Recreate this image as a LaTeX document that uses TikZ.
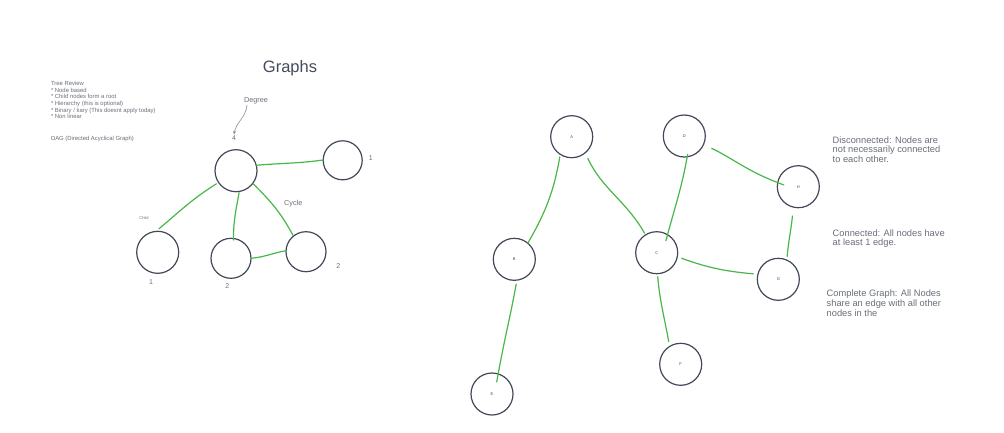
\documentclass[tikz,border=0pt]{standalone}
\usepackage{fontspec}
\setmainfont{Liberation Sans}
\usetikzlibrary{arrows.meta}
\definecolor{circ}{HTML}{434858}
\definecolor{grn}{HTML}{48B848}
\definecolor{txt}{HTML}{6B6F7B}
\definecolor{ttl}{HTML}{454A5C}
\begin{document}
\begin{tikzpicture}[x=1pt,y=-1pt,
  vtx/.style={circle, draw=circ, line width=1.2pt, minimum size=42pt, inner sep=0pt, outer sep=0pt, font=\fontsize{4}{4}\selectfont, text=circ},
  edge/.style={draw=grn, line width=1.2pt, line cap=round},
  lbl/.style={text=txt, inner sep=0pt, outer sep=0pt},
  para/.style={lbl, anchor=north west, align=left},
  arr/.style={draw=txt!80, line width=0.6pt, -{Stealth[length=3.5pt,width=3pt]}}
]
\useasboundingbox[fill=white] (0,0) rectangle (1004,432);

% title and notes
\node[text=ttl, inner sep=0pt, font=\fontsize{16.5}{18}\selectfont] (title) at (290,68) {Graphs};
\node[para, font=\fontsize{5.9}{6.7}\selectfont] (tree) at (51,81.1) {Tree Review\\* Node based\\* Child nodes form a root\\* Hierarchy (this is optional)\\* Binary / kary (This doesnt apply today)\\* Non linear};
\node[para, font=\fontsize{5.9}{6.7}\selectfont] (dag) at (51,136.1) {DAG (Directed Acyclical Graph)};

% left graph
\node[vtx] (R) at (236,170.7) {};
\node[vtx, minimum size=39pt] (N1) at (342.7,160.3) {};
\node[vtx] (BL) at (157.7,252.3) {};
\node[vtx, minimum size=40pt] (BM) at (231,258.3) {};
\node[vtx, minimum size=40pt] (BR) at (306,251.7) {};

\node[lbl, font=\fontsize{7.3}{8}\selectfont] (deg) at (256,100.7) {Degree};
\node[lbl, font=\fontsize{7}{8}\selectfont] (four) at (234,138.3) {4};
\node[lbl, font=\fontsize{7}{8}\selectfont] (d1) at (370.7,158.3) {1};
\node[lbl, font=\fontsize{7.3}{8}\selectfont] (cyc) at (293.3,203.3) {Cycle};
\node[lbl, font=\fontsize{4}{5}\selectfont] (child) at (144,217.7) {Child};
\node[lbl, font=\fontsize{7}{8}\selectfont] (d2) at (151,281.7) {1};
\node[lbl, font=\fontsize{7}{8}\selectfont] (d3) at (227.3,286) {2};
\node[lbl, font=\fontsize{7}{8}\selectfont] (d4) at (338.3,266) {2};

\draw[arr] ([xshift=3pt,yshift=-1pt]deg.south west) to[out=-95,in=80] ([yshift=1.5pt]four.north);

\draw[edge] (R.15) to[out=5,in=188] (N1.179);
\draw[edge, shorten <=2.6pt, shorten >=4pt] (R.-146) to[out=-148,in=40] (BL.95);
\draw[edge, shorten <=1.2pt, shorten >=-1.6pt] (R.-81) to[out=-100,in=90] (BM.83);
\draw[edge, shorten <=1.1pt, shorten >=0.9pt] (R.-37.6) to[out=-45,in=118] (BR.129);
\draw[edge] (BM.0) to[out=5,in=190] (BR.177);

% right graph
\node[vtx] (A) at (571.7,136.7) {A};
\node[vtx] (D) at (684.3,136) {D};
\node[vtx] (H) at (798.3,186.7) {H};
\node[vtx] (B) at (514.3,259.3) {B};
\node[vtx] (C) at (656.7,252.7) {C};
\node[vtx] (G) at (778.3,279.3) {G};
\node[vtx] (F) at (680.7,364.3) {F};
\node[vtx] (E) at (492,394) {E};

\draw[edge, shorten <=2.7pt] (A.237.6) to[out=-100,in=60] (B.50);
\draw[edge, shorten <=6.2pt, shorten >=2pt] (A.-50.5) to[out=-65,in=120] (C.122.6);
\draw[edge, shorten <=-2.5pt, shorten >=-6.2pt] (D.-82.5) to[out=-100,in=75] (C.59);
\draw[edge, shorten <=9pt, shorten >=-6.5pt] (D.-24) to[out=-25,in=160] (H.169);
\draw[edge, shorten <=9pt, shorten >=3.7pt] (H.-104) to[out=-95,in=85] (G.66);
\draw[edge, shorten <=4.5pt, shorten >=4.7pt] (C.-11) to[out=-20,in=175] (G.166);
\draw[edge, shorten <=3pt, shorten >=5pt] (C.-88) to[out=-85,in=100] (F.122);
\draw[edge, shorten <=4pt, shorten >=-8.2pt] (B.-83) to[out=-100,in=80] (E.73);

% right notes
\node[para, font=\fontsize{9.3}{9.7}\selectfont] (disc) at (832.7,136.5) {Disconnected: Nodes are\\not necessarily connected\\to each other.};
\node[para, font=\fontsize{9.3}{9.2}\selectfont] (conn) at (832.7,229.8) {Connected: All nodes have\\at least 1 edge.};
\node[para, font=\fontsize{9.3}{10}\selectfont] (comp) at (826.7,289.8) {Complete Graph: All Nodes\\share an edge with all other\\nodes in the};
\end{tikzpicture}
\end{document}
